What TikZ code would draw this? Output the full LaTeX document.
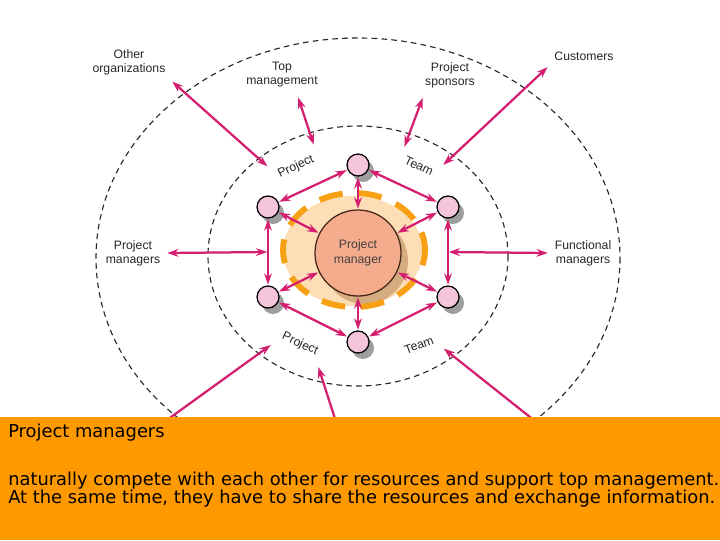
\documentclass[tikz,border=0pt]{standalone}
\usepackage{fontspec}
\setmainfont{Liberation Sans}
\newfontfamily\notefont{DejaVu Sans}
\usetikzlibrary{arrows.meta,calc}

\definecolor{linkpink}{RGB}{212,30,112}
\definecolor{dotpink}{RGB}{243,196,218}
\definecolor{mgrfill}{RGB}{245,172,140}
\definecolor{mgrline}{RGB}{70,40,25}
\definecolor{haloorange}{RGB}{253,222,182}
\definecolor{shadowtan}{RGB}{212,172,128}
\definecolor{dashorange}{RGB}{248,160,20}
\definecolor{boxorange}{RGB}{255,153,0}

\tikzset{
	link/.style={draw=linkpink, line width=1.6pt, {Stealth[length=8pt,width=5.5pt]}-{Stealth[length=8pt,width=5.5pt]}, shorten <=0.5pt, shorten >=0.5pt},
	oneway/.style={draw=linkpink, line width=1.6pt, -{Stealth[length=8pt,width=5.5pt]}, shorten >=1pt},
	member/.style={circle, draw=black, line width=0.9pt, fill=dotpink, minimum size=0.55cm, inner sep=0pt},
	ring/.style={draw=black!85, line width=0.8pt, dash pattern=on 4pt off 3pt},
	tag/.style={font=\fontsize{8.7}{10}\selectfont, text=black!85, align=center, inner sep=2pt, outer sep=2.5pt},
}

\begin{document}
\begin{tikzpicture}[x=0.025cm, y=-0.025cm]
			%%%%% START %%%%%
			
			\useasboundingbox (0,0) rectangle (720,540);
			
			\draw[ring] (358,258) ellipse [x radius=262, y radius=220];
			\draw[ring] (358,256) ellipse [x radius=150, y radius=130];
			
			\fill[haloorange] (353,251) ellipse [x radius=70, y radius=55];
			\fill[shadowtan] (365,261) circle [radius=43];
			\node[circle, draw=mgrline, line width=0.9pt, fill=mgrfill, minimum size=2.15cm, font=\fontsize{8.7}{10.5}\selectfont, text=black!75, align=center] (pm) at (358,253) {Project\\manager};
			\draw[dashorange, line width=4.2pt, dash pattern=on 17pt off 11pt, dash phase=6pt] (354,250) ellipse [x radius=71, y radius=57];
			
			\foreach \name/\px/\py in {mtop/358/165, mul/268/207, mur/448/207, mll/268/297, mlr/448/297, mbot/358/342}{
				\fill[black!38] (\px+5,\py+6) circle [radius=11];
				\node[member] (\name) at (\px,\py) {};
			}
			
			\draw[link] (mtop) -- (mul);
			\draw[link] (mtop) -- (mur);
			\draw[link] (mul) -- (mll);
			\draw[link] (mur) -- (mlr);
			\draw[link] (mll) -- (mbot);
			\draw[link] (mlr) -- (mbot);
			
			\foreach \name in {mtop, mul, mur, mll, mlr, mbot}
				\draw[link] (\name) -- (pm);
			
			\node[tag] (othorg) at (129,62) {Other\\organizations};
			\node[tag] (topmgt) at (282,75) {Top\\management};
			\node[tag] (sponsor) at (450,75) {Project\\sponsors};
			\node[tag] (cust) at (584,56) {Customers};
			\node[tag] (pmgrs) at (133,253) {Project\\managers};
			\node[tag] (fmgrs) at (583,253) {Functional\\managers};
			\node[tag, rotate=25] (projtop) at (296,167) {Project};
			\node[tag, rotate=-25] (teamtop) at (419,166) {Team};
			\node[tag, rotate=-25] (projbot) at (300,344) {Project};
			\node[tag, rotate=20] (teambot) at (419,345) {Team};
			
			\coordinate (wmid) at ($(mul)!.5!(mll)$);
			\coordinate (emid) at ($(mur)!.5!(mlr)$);
			
			\draw[link] (othorg.south east) -- (projtop.north west);
			\draw[link] ($(topmgt.south)+(16,3)$) -- (projtop.north east);
			\draw[link] ($(sponsor.south)+(-27,3)$) -- (teamtop.north west);
			\draw[link] (cust.south west) -- (teamtop.north east);
			\draw[link] (pmgrs.east) -- (wmid);
			\draw[link] (fmgrs.west) -- (emid);
			
			\coordinate (b1) at (160,425);
			\coordinate (b2) at (338,428);
			\coordinate (b3) at (540,425);
			\draw[oneway] (b1) -- (projbot.south west);
			\draw[oneway] (b2) -- (projbot.south east);
			\draw[oneway] (b3) -- (teambot.south east);
			
			\fill[boxorange] (0,417) rectangle (720,540);
			\node[anchor=base west, inner sep=0pt, font=\notefont\fontsize{12.7}{12.8}\selectfont] (notehead) at (8,437) {Project managers};
			\node[anchor=base west, inner sep=0pt, align=left, font=\notefont\fontsize{12.7}{12.8}\selectfont] (notebody) at (8,503) {naturally compete with each other for resources and support top management.\\At the same time, they have to share the resources and exchange information.};
			
			%%%%% END %%%%%
		\end{tikzpicture}
\end{document}
